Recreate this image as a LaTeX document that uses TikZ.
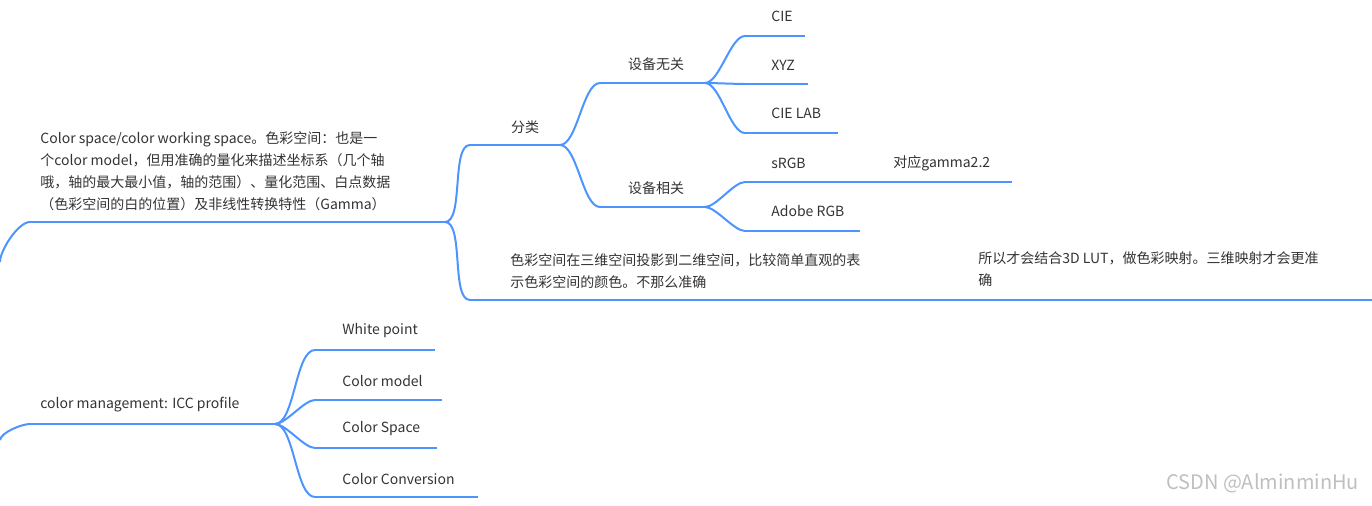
\documentclass[tikz,border=0pt]{standalone}
\usepackage{fontspec}
\setmainfont{Noto Sans CJK SC}
\usetikzlibrary{positioning}
\definecolor{branch}{HTML}{4D94FF}
\definecolor{ink}{HTML}{333333}
\tikzset{
  topic/.style={text=ink, font=\fontsize{7}{11}\selectfont, inner sep=0pt},
  uline/.style={draw=branch, line width=1pt},
  link/.style={draw=branch, line width=1pt, out=0, in=180, looseness=0.6}
}
\begin{document}
\begin{tikzpicture}[x=0.5pt,y=-0.5pt]
  \useasboundingbox (0,0) rectangle (1372,506);

  % Color space branch
  \node[topic, anchor=west, align=left] (space) at (40,171)
    {Color space/color working space。色彩空间：也是一\\个color model，但用准确的量化来描述坐标系（几个轴\\哦，轴的最大最小值，轴的范围）、量化范围、白点数据\\（色彩空间的白的位置）及非线性转换特性（Gamma）};
  \coordinate (r1) at (0,262);
  \coordinate (s1) at (30,222); \coordinate (e1) at (445,222);
  \path[link] (r1) to[out=90,in=180] (s1);
  \path[uline] (s1) -- (e1);

  \node[topic] (kind) at (525,127) {分类};
  \coordinate (s2) at (470,145); \coordinate (e2) at (560,145);
  \path[link] (e1) to (s2); \path[uline] (s2) -- (e2);

  \node[topic] (indep) at (656,64) {设备无关};
  \coordinate (s3) at (600,83); \coordinate (e3) at (705,83);
  \path[link] (e2) to (s3); \path[uline] (s3) -- (e3);

  \node[topic] (dep) at (656,188) {设备相关};
  \coordinate (s4) at (600,207); \coordinate (e4) at (705,207);
  \path[link] (e2) to (s4); \path[uline] (s4) -- (e4);

  \node[topic, anchor=west] (cie) at (771,16) {CIE};
  \coordinate (s5) at (745,36); \coordinate (e5) at (805,36);
  \path[link] (e3) to (s5); \path[uline] (s5) -- (e5);

  \node[topic, anchor=west] (xyz) at (771,65) {XYZ};
  \coordinate (s6) at (745,84); \coordinate (e6) at (808,84);
  \path[link] (e3) to (s6); \path[uline] (s6) -- (e6);

  \node[topic, anchor=west] (lab) at (771,113) {CIE LAB};
  \coordinate (s7) at (745,133); \coordinate (e7) at (838,133);
  \path[link] (e3) to (s7); \path[uline] (s7) -- (e7);

  \node[topic, anchor=west] (srgb) at (771,163) {sRGB};
  \coordinate (s8) at (745,182); \coordinate (e8) at (865,182);
  \path[link] (e4) to (s8); \path[uline] (s8) -- (e8);

  \node[topic, anchor=west] (gamma) at (893,163) {对应gamma2.2};
  \coordinate (e9) at (1012,182);
  \path[uline] (e8) -- (e9);

  \node[topic, anchor=west] (adobe) at (771,211) {Adobe RGB};
  \coordinate (s10) at (745,231); \coordinate (e10) at (860,231);
  \path[link] (e4) to (s10); \path[uline] (s10) -- (e10);

  \node[topic, anchor=west, align=left] (proj) at (510,271)
    {色彩空间在三维空间投影到二维空间，比较简单直观的表\\示色彩空间的颜色。不那么准确};
  \coordinate (s11) at (470,300); \coordinate (e11) at (945,300);
  \path[link] (e1) to (s11); \path[uline] (s11) -- (e11);

  \node[topic, anchor=west, align=left] (lut) at (978,269)
    {所以才会结合3D LUT，做色彩映射。三维映射才会更准\\确};
  \coordinate (e12) at (1372,300);
  \path[uline] (e11) -- (e12);

  % Color management branch
  \node[topic, anchor=west] (icc) at (40,405) {color management: ICC profile};
  \coordinate (r2) at (0,440);
  \coordinate (s13) at (30,424); \coordinate (e13) at (275,424);
  \path[link] (r2) to[out=80,in=180] (s13);
  \path[uline] (s13) -- (e13);

  \node[topic, anchor=west] (white) at (342,331) {White point};
  \coordinate (s14) at (315,350); \coordinate (e14) at (435,350);
  \path[link] (e13) to (s14); \path[uline] (s14) -- (e14);

  \node[topic, anchor=west] (model) at (342,381) {Color model};
  \coordinate (s15) at (315,400); \coordinate (e15) at (442,400);
  \path[link] (e13) to (s15); \path[uline] (s15) -- (e15);

  \node[topic, anchor=west] (cspace) at (342,429) {Color Space};
  \coordinate (s16) at (315,448); \coordinate (e16) at (437,448);
  \path[link] (e13) to (s16); \path[uline] (s16) -- (e16);

  \node[topic, anchor=west] (conv) at (342,479) {Color Conversion};
  \coordinate (s17) at (315,497); \coordinate (e17) at (478,497);
  \path[link] (e13) to (s17); \path[uline] (s17) -- (e17);

  \node[text=black!25, font=\fontsize{10}{12}\selectfont, anchor=east] (mark) at (1366,483) {CSDN @AlminminHu};
\end{tikzpicture}
\end{document}
